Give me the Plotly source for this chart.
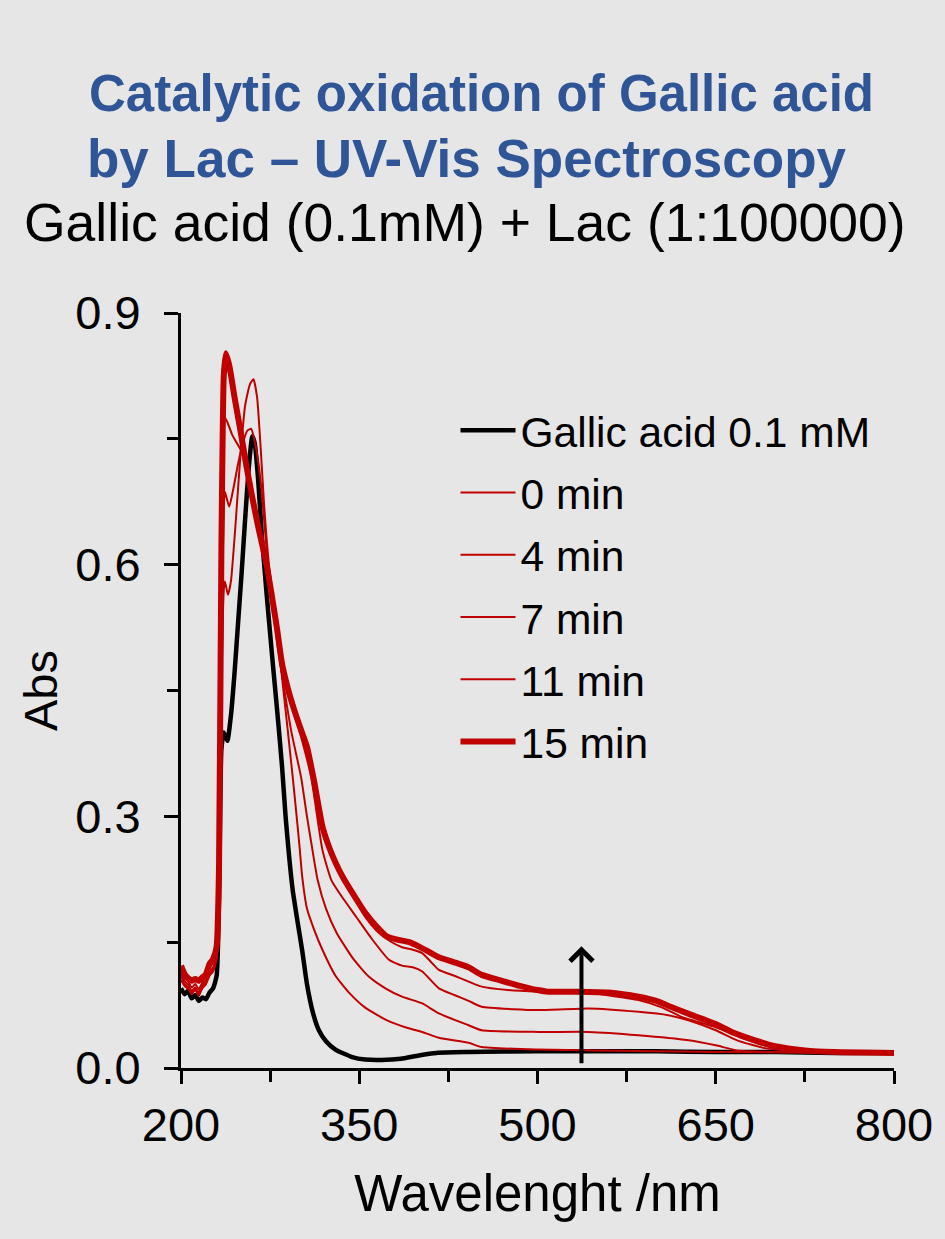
import plotly.graph_objects as go

# ---------------- data ----------------
series_names = ["Gallic acid 0.1 mM", "0 min", "4 min", "7 min", "11 min", "15 min"]

wl_gallic = [200, 203, 206, 209, 212, 215, 218, 221, 224, 227, 230, 232, 234, 236, 239, 242, 245, 248, 251,
             254, 257, 260, 262, 265, 268, 272, 277, 281, 285, 288, 291, 294, 298, 302, 306, 311, 316, 322, 330,
             344, 355, 369, 385, 400, 415, 442, 500, 550, 600, 650, 700, 750, 800]
abs_gallic = [0.095, 0.088, 0.092, 0.083, 0.087, 0.080, 0.084, 0.082, 0.090, 0.095, 0.110, 0.200, 0.380, 0.400, 0.390, 0.420, 0.470, 0.530, 0.590,
              0.655, 0.715, 0.753, 0.745, 0.700, 0.635, 0.566, 0.486, 0.425, 0.360, 0.300, 0.252, 0.212, 0.175, 0.140, 0.100, 0.066, 0.045, 0.032, 0.022,
              0.013, 0.010, 0.0095, 0.011, 0.015, 0.018, 0.019, 0.020, 0.020, 0.020, 0.019, 0.019, 0.018, 0.018]

wl_0 = [200, 203, 206, 209, 212, 215, 218, 221, 224, 227, 230, 232, 234, 236, 237, 239.5, 242, 246, 250, 254, 258, 261,
        264, 267, 270, 274, 280, 285, 294, 298, 300, 302, 306, 312, 319, 330, 342, 355, 373, 390, 403, 417, 442, 453,
        500, 550, 650, 800]
abs_0 = [0.105, 0.098, 0.094, 0.090, 0.093, 0.088, 0.095, 0.100, 0.110, 0.115, 0.130, 0.200, 0.450, 0.570, 0.580, 0.564, 0.580, 0.650, 0.730, 0.790, 0.815, 0.821,
         0.800, 0.740, 0.670, 0.600, 0.530, 0.466, 0.347, 0.290, 0.260, 0.228, 0.190, 0.165, 0.141, 0.110, 0.089, 0.072, 0.057, 0.048, 0.043, 0.036, 0.030, 0.025,
         0.022, 0.021, 0.019, 0.018]

wl_4 = [200, 203, 206, 209, 212, 215, 218, 221, 224, 227, 230, 232, 234, 236, 237, 240.5, 244, 248, 252, 256, 259,
        263, 267, 272, 278, 285, 293, 301, 306, 310.6, 315, 322, 331, 345, 358, 372, 386, 403, 417, 442, 453,
        501, 543, 585, 627, 650, 668, 700, 800]
abs_4 = [0.110, 0.100, 0.096, 0.088, 0.094, 0.086, 0.097, 0.102, 0.112, 0.118, 0.132, 0.210, 0.500, 0.670, 0.687, 0.669, 0.690, 0.720, 0.745, 0.760, 0.762,
         0.740, 0.700, 0.620, 0.545, 0.470, 0.400, 0.347, 0.300, 0.260, 0.224, 0.190, 0.161, 0.130, 0.109, 0.095, 0.085, 0.077, 0.065, 0.051, 0.045,
         0.043, 0.043, 0.039, 0.033, 0.027, 0.021, 0.019, 0.018]

wl_7 = [200, 203, 206, 209, 212, 215, 218, 221, 224, 227, 230, 232, 234, 236.5, 239, 243, 247, 251, 255, 260, 265,
        270, 277, 285, 300, 309.5, 319, 326.5, 335, 347.5, 360, 375, 386, 395, 403, 417, 430, 442, 453, 480,
        501, 543, 585, 610, 627, 650, 668, 690, 720, 800]
abs_7 = [0.112, 0.104, 0.099, 0.092, 0.096, 0.090, 0.099, 0.104, 0.115, 0.120, 0.135, 0.220, 0.550, 0.776, 0.770, 0.755, 0.745, 0.735, 0.715, 0.685, 0.650,
         0.610, 0.550, 0.470, 0.400, 0.347, 0.260, 0.224, 0.205, 0.180, 0.155, 0.129, 0.122, 0.120, 0.115, 0.095, 0.087, 0.080, 0.073, 0.070,
         0.069, 0.071, 0.067, 0.063, 0.057, 0.045, 0.033, 0.024, 0.020, 0.018]

wl_11 = [200, 203, 206, 209, 212, 215, 218, 221, 224, 227, 230, 232, 234, 236, 237.7, 241, 245, 250, 255, 260, 265,
         272, 277, 281, 285, 290, 295, 300, 306, 312, 319, 325, 330, 336, 345, 355, 365, 375, 386, 395, 403,
         410, 417, 430, 442, 453, 475, 501, 540, 585, 605, 621, 649, 670, 696, 725, 800]
abs_11 = [0.118, 0.108, 0.103, 0.096, 0.100, 0.094, 0.102, 0.108, 0.120, 0.125, 0.140, 0.230, 0.600, 0.810, 0.840, 0.825, 0.790, 0.750, 0.712, 0.676, 0.640,
          0.595, 0.555, 0.520, 0.480, 0.450, 0.425, 0.405, 0.380, 0.340, 0.287, 0.260, 0.243, 0.226, 0.205, 0.180, 0.163, 0.152, 0.144, 0.141, 0.137,
          0.127, 0.117, 0.110, 0.103, 0.097, 0.093, 0.091, 0.090, 0.081, 0.072, 0.061, 0.049, 0.037, 0.025, 0.020, 0.018]

wl_15 = [200, 203, 206, 209, 212, 215, 218, 221, 224, 227, 230, 232, 234, 236, 237.7, 241, 245, 250, 255, 260, 265,
         272, 277, 281, 285, 290, 295, 300, 306, 312, 319, 325, 330, 336, 345, 355, 365, 373, 382, 392, 400,
         408, 417, 430, 442, 453, 470, 485, 500, 509, 534, 560, 585, 600, 612, 630, 649, 665, 683, 700, 725, 750, 800]
abs_15 = [0.122, 0.112, 0.107, 0.104, 0.106, 0.104, 0.108, 0.112, 0.124, 0.130, 0.145, 0.240, 0.620, 0.825, 0.852, 0.835, 0.800, 0.760, 0.718, 0.680, 0.645,
          0.600, 0.558, 0.522, 0.482, 0.452, 0.428, 0.407, 0.383, 0.342, 0.288, 0.262, 0.245, 0.228, 0.207, 0.185, 0.168, 0.157, 0.153, 0.150, 0.145,
          0.139, 0.132, 0.126, 0.120, 0.111, 0.104, 0.098, 0.093, 0.091, 0.091, 0.090, 0.085, 0.080, 0.073, 0.063, 0.053, 0.042, 0.033, 0.026, 0.021, 0.019, 0.018]

x_tick_labels = ["200", "350", "500", "650", "800"]
y_tick_labels = ["0.0", "0.3", "0.6", "0.9"]

arrow_wavelength = 537
arrow_from = 0.004
arrow_to = 0.145

# ---------------- figure ----------------
RED = "#C00000"
series = [
    (wl_gallic, abs_gallic, "black", 4.5),
    (wl_0, abs_0, RED, 2),
    (wl_4, abs_4, RED, 2),
    (wl_7, abs_7, RED, 2),
    (wl_11, abs_11, RED, 2),
    (wl_15, abs_15, RED, 6),
]

fig = go.Figure()
for name, (xs, ys, col, w) in zip(series_names, series):
    fig.add_trace(go.Scatter(
        x=xs, y=ys, mode="lines", name=name, legendgroup=name,
        line=dict(color=col, width=w, shape="spline", smoothing=0.5),
    ))

FONT = "Liberation Sans, Arial, sans-serif"
BG = "#E6E6E6"

fig.update_layout(
    width=945, height=1239,
    margin=dict(l=181, r=48, t=313, b=171),
    paper_bgcolor=BG, plot_bgcolor=BG,
    font=dict(family=FONT, color="black", size=44),
    legend=dict(
        x=0.385, y=0.89, xanchor="left", yanchor="top",
        bgcolor="rgba(0,0,0,0)", font=dict(size=42.5, family=FONT, color="black"),
        traceorder="grouped", tracegroupgap=4, itemwidth=55,
    ),
)

x_vals = [float(v) for v in x_tick_labels]
y_vals = [float(v) for v in y_tick_labels]

fig.update_xaxes(
    range=[200, 800], tickvals=x_vals, ticktext=x_tick_labels,
    ticks="outside", ticklen=13, tickwidth=3, tickcolor="black",
    minor=dict(dtick=75, tick0=200, ticks="outside", ticklen=11, tickwidth=3, tickcolor="black", showgrid=False),
    showline=True, linewidth=3, linecolor="black", showgrid=False, zeroline=False,
    tickfont=dict(size=47, family=FONT, color="black"), ticklabelstandoff=1,
    title=dict(text="Wavelenght /nm", font=dict(size=51, family=FONT, color="black"), standoff=25),
)
fig.update_yaxes(
    range=[0, 0.9], tickvals=y_vals, ticktext=y_tick_labels,
    ticks="outside", ticklen=14, tickwidth=3, tickcolor="black",
    minor=dict(dtick=0.15, tick0=0, ticks="outside", ticklen=11, tickwidth=3, tickcolor="black", showgrid=False),
    showline=True, linewidth=3, linecolor="black", showgrid=False, zeroline=False,
    tickfont=dict(size=47, family=FONT, color="black"), ticklabelstandoff=14,
    title=dict(text="Abs", font=dict(size=47, family=FONT, color="black"), standoff=3),
)

# arrow showing the increase with time
fig.add_annotation(
    x=arrow_wavelength, y=arrow_to, ax=arrow_wavelength, ay=arrow_from,
    xref="x", yref="y", axref="x", ayref="y",
    showarrow=True, arrowhead=4, arrowsize=1.1, arrowwidth=4, arrowcolor="black", text="",
)

# titles
def py(p):
    return (1068 - p) / 755.0

def px(p):
    return (p - 181) / 716.0

fig.add_annotation(text="<b>Catalytic oxidation of Gallic acid</b>", x=px(483), y=py(93),
                   xref="paper", yref="paper", showarrow=False, xanchor="center", yanchor="middle",
                   font=dict(size=51, family=FONT, color="#2F5597"))
fig.add_annotation(text="<b>by Lac – UV-Vis Spectroscopy</b>", x=px(468), y=py(158),
                   xref="paper", yref="paper", showarrow=False, xanchor="center", yanchor="middle",
                   font=dict(size=53, family=FONT, color="#2F5597"))
fig.add_annotation(text="Gallic acid (0.1mM) + Lac (1:100000)", x=px(466), y=py(222),
                   xref="paper", yref="paper", showarrow=False, xanchor="center", yanchor="middle",
                   font=dict(size=53.5, family=FONT, color="black"))

fig.write_html(
    "out.html",
    config={"displayModeBar": False},
    post_script="document.body.style.margin='0';document.body.style.background='#E6E6E6';",
)
